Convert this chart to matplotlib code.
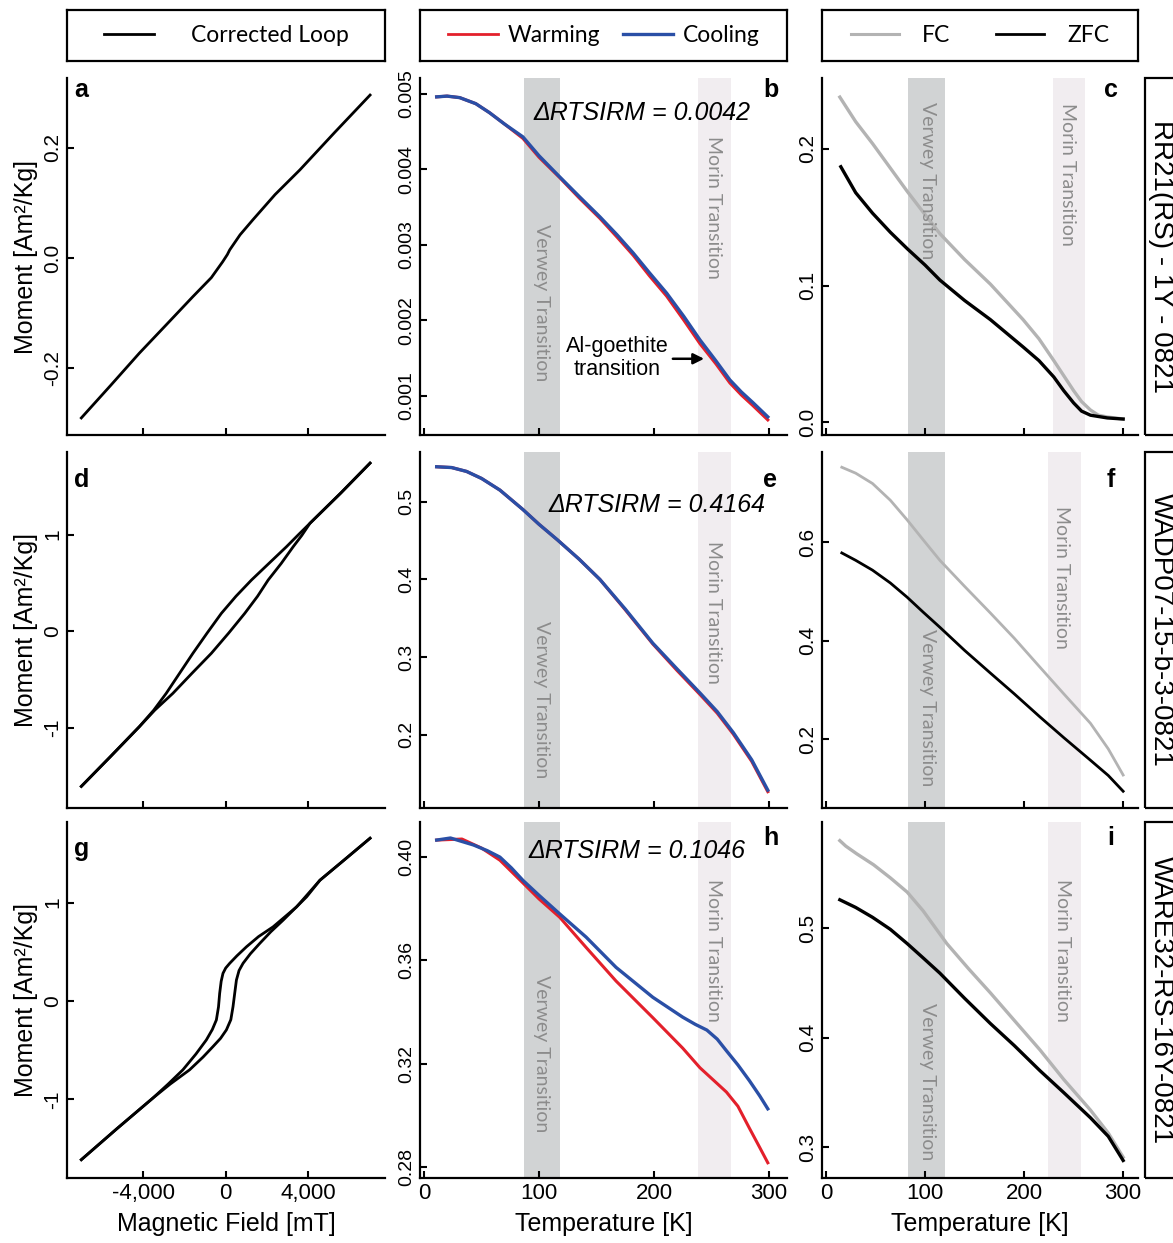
import numpy as np
import matplotlib
matplotlib.use("Agg")
import matplotlib.pyplot as plt
from matplotlib.patches import Rectangle
from matplotlib.lines import Line2D

plt.rcParams['font.family'] = ['Liberation Sans', 'DejaVu Sans']

# --- hysteresis loops (field in mT, moment in Am2/Kg) ---
field_a = [-7024, -5600, -4195, -2900, -1610, -700, -146, 80, 195, 700, 1317, 2400, 3610, 5300, 7024]
moment_a = [-0.291, -0.232, -0.173, -0.122, -0.071, -0.036, -0.007, 0.006, 0.0145, 0.042, 0.069, 0.115, 0.160, 0.228, 0.296]

field_d_up = [-7024, -5600, -4195, -3500, -2894, -2250, -1595, -900, -211, 500, 1252, 2100, 2959, 3500, 4098, 5600, 7024]
moment_d_up = [-1.61, -1.30, -0.99, -0.82, -0.646, -0.44, -0.231, -0.02, 0.183, 0.36, 0.528, 0.70, 0.874, 0.99, 1.116, 1.43, 1.74]
field_d_dn = [-7024, -5600, -4195, -3450, -2570, -1650, -698, 150, 927, 1550, 2065, 2700, 3285, 3700, 4098, 5600, 7024]
moment_d_dn = [-1.61, -1.30, -0.99, -0.82, -0.646, -0.44, -0.231, -0.02, 0.183, 0.36, 0.528, 0.70, 0.874, 0.99, 1.116, 1.43, 1.74]

field_g_up = [-7024, -5300, -3546, -2800, -2083, -1450, -941, -650, -454, -350, -293, -220, -132, 0, 195, 550, 1010, 1600, 2307, 3449, 4585, 5800, 7024]
moment_g_up = [-1.614, -1.30, -0.988, -0.845, -0.700, -0.54, -0.396, -0.29, -0.193, -0.06, 0.078, 0.20, 0.281, 0.335, 0.383, 0.46, 0.551, 0.655, 0.754, 0.957, 1.228, 1.44, 1.655]
field_g_dn = [-7024, -5300, -3546, -2700, -1756, -1100, -620, -250, 34, 250, 356, 440, 522, 650, 844, 1200, 1659, 2200, 2795, 3937, 4585, 5800, 7024]
moment_g_dn = [-1.614, -1.30, -0.988, -0.845, -0.700, -0.57, -0.464, -0.38, -0.294, -0.19, -0.058, 0.08, 0.213, 0.31, 0.383, 0.48, 0.586, 0.705, 0.822, 1.059, 1.228, 1.44, 1.655]

# --- RTSIRM warming / cooling (T in K) ---
temp_b = [11, 20, 31, 45, 57, 70, 86, 100, 118, 135, 153, 168, 182, 196, 211, 226, 240, 254, 266, 276, 286, 299]
cool_b = [0.00496, 0.00497, 0.00495, 0.00487, 0.00475, 0.00460, 0.00443, 0.00418, 0.00390, 0.00364, 0.00337, 0.00313, 0.00289, 0.00263, 0.00236, 0.00205, 0.00174, 0.00146, 0.00121, 0.00105, 0.00091, 0.00072]
warm_b = [0.00496, 0.00497, 0.00495, 0.00487, 0.00475, 0.00460, 0.00441, 0.00416, 0.00389, 0.00362, 0.00335, 0.00310, 0.00286, 0.00259, 0.00232, 0.00200, 0.00169, 0.00142, 0.00117, 0.00101, 0.00087, 0.00068]

temp_e = [11, 24, 37, 50, 66, 86, 100, 116, 135, 153, 175, 199, 220, 240, 255, 269, 285, 299]
cool_e = [0.545, 0.544, 0.539, 0.530, 0.515, 0.490, 0.471, 0.451, 0.426, 0.400, 0.362, 0.318, 0.285, 0.254, 0.230, 0.203, 0.168, 0.129]
warm_e = [0.545, 0.544, 0.539, 0.530, 0.515, 0.490, 0.471, 0.451, 0.426, 0.400, 0.361, 0.317, 0.283, 0.252, 0.228, 0.201, 0.166, 0.127]

temp_h_cool = [11, 23, 43, 55, 66, 76, 86, 100, 118, 141, 167, 199, 225, 236, 246, 255, 263, 273, 283, 292, 299]
cool_h = [0.4066, 0.4074, 0.4047, 0.4025, 0.400, 0.3958, 0.391, 0.3852, 0.378, 0.369, 0.3573, 0.3457, 0.338, 0.3352, 0.333, 0.3295, 0.325, 0.3195, 0.3134, 0.3075, 0.3025]
temp_h_warm = [11, 33, 50, 66, 86, 100, 118, 141, 167, 199, 225, 240, 252, 263, 273, 283, 292, 299]
warm_h = [0.4066, 0.4070, 0.4035, 0.3988, 0.390, 0.3838, 0.3767, 0.365, 0.352, 0.3378, 0.326, 0.3184, 0.3135, 0.309, 0.3035, 0.295, 0.2875, 0.2816]

# --- FC / ZFC ---
temp_c = [14, 30, 47, 65, 82, 100, 115, 140, 166, 199, 215, 230, 240, 250, 258, 267, 275, 284, 300]
fc_c = [0.238, 0.220, 0.204, 0.186, 0.169, 0.152, 0.138, 0.119, 0.101, 0.075, 0.061, 0.045, 0.034, 0.023, 0.015, 0.0088, 0.005, 0.0037, 0.0022]
temp_c_z = [15, 30, 47, 65, 82, 100, 115, 140, 166, 199, 215, 230, 240, 250, 258, 267, 284, 300]
zfc_c = [0.187, 0.168, 0.153, 0.139, 0.127, 0.115, 0.104, 0.089, 0.075, 0.055, 0.045, 0.033, 0.023, 0.014, 0.008, 0.005, 0.003, 0.0022]

temp_f = [16, 30, 47, 65, 82, 98, 115, 140, 166, 190, 216, 240, 267, 285, 300]
fc_f = [0.752, 0.740, 0.719, 0.685, 0.645, 0.605, 0.563, 0.510, 0.456, 0.405, 0.346, 0.292, 0.232, 0.180, 0.127]
zfc_f = [0.578, 0.563, 0.543, 0.517, 0.488, 0.458, 0.427, 0.380, 0.334, 0.292, 0.245, 0.203, 0.157, 0.126, 0.094]

temp_i_fc = [14, 20, 31, 48, 65, 82, 98, 110, 122, 144, 166, 190, 216, 240, 267, 285, 300]
fc_i = [0.580, 0.575, 0.568, 0.558, 0.546, 0.533, 0.516, 0.501, 0.486, 0.463, 0.441, 0.416, 0.389, 0.362, 0.334, 0.313, 0.291]
temp_i_zfc = [14, 30, 47, 65, 82, 98, 115, 140, 166, 190, 216, 240, 267, 285, 300]
zfc_i = [0.526, 0.519, 0.510, 0.499, 0.486, 0.473, 0.459, 0.436, 0.413, 0.393, 0.370, 0.350, 0.327, 0.310, 0.288]

delta_rtsirm = ["0.0042", "0.4164", "0.1046"]
sample_names = ["RR21(RS) - 1Y - 0821", "WADP07-15-b-3-0821", "WARE32-RS-16Y-0821"]
verwey_band = (87, 118)
morin_band_mid = (238, 267)
morin_band_right = [(229, 262), (224, 257), (224, 257)]
verwey_band_right = (83, 120)

red = '#e3202b'
blue = '#2a4fa6'
fc_gray = '#b3b3b3'
band_dark = '#d1d3d4'
band_light = '#f1edf0'
txt_gray = '#8c8c8c'

fig = plt.figure(figsize=(11.73, 12.43), dpi=100)

W, H = 1173.0, 1243.0
cols = [(67, 385), (420, 787), (822, 1138)]
rows = [(78, 435), (452, 808), (822, 1178)]

axs = []
for r in range(3):
    row_axes = []
    for c in range(3):
        x0, x1 = cols[c]
        y0, y1 = rows[r]
        ax = fig.add_axes([x0 / W, 1 - y1 / H, (x1 - x0) / W, (y1 - y0) / H])
        for s in ['top', 'right']:
            ax.spines[s].set_visible(False)
        for s in ['left', 'bottom']:
            ax.spines[s].set_linewidth(1.6)
        ax.tick_params(direction='in', length=5, width=1.5)
        row_axes.append(ax)
    axs.append(row_axes)

# column 1: loops
ax = axs[0][0]
ax.plot(field_a, moment_a, color='k', lw=2)
ax.set_ylim(-0.322, 0.327)
ax.set_yticks([-0.2, 0.0, 0.2])
ax.set_yticklabels(['-0.2', '0.0', '0.2'])

ax = axs[1][0]
ax.plot(field_d_up, moment_d_up, color='k', lw=2)
ax.plot(field_d_dn, moment_d_dn, color='k', lw=2)
ax.set_ylim(-1.834, 1.855)

ax = axs[2][0]
ax.plot(field_g_up, moment_g_up, color='k', lw=2)
ax.plot(field_g_dn, moment_g_dn, color='k', lw=2)
ax.set_ylim(-1.80, 1.82)

for r in range(3):
    ax = axs[r][0]
    ax.set_xlim(-7720, 7750)
    ax.set_xticks([-4000, 0, 4000])
    if r > 0:
        ax.set_yticks([-1, 0, 1])
        ax.set_yticklabels(['-1', '0', '1'])
    ax.set_ylabel('Moment [Am²/Kg]', fontsize=18, labelpad=4)
    plt.setp(ax.get_yticklabels(), rotation=90, va='center', fontsize=15)
    if r == 2:
        ax.set_xticklabels(['-4,000', '0', '4,000'], fontsize=16)
        ax.set_xlabel('Magnetic Field [mT]', fontsize=18, labelpad=6)
    else:
        ax.set_xticklabels([])

# column 2: RTSIRM
mid_data = [(temp_b, warm_b, temp_b, cool_b), (temp_e, warm_e, temp_e, cool_e),
            (temp_h_warm, warm_h, temp_h_cool, cool_h)]
mid_ylims = [(0.00048, 0.00521), (0.106, 0.564), (0.2757, 0.4136)]
mid_ticks = [[0.001, 0.002, 0.003, 0.004, 0.005], [0.2, 0.3, 0.4, 0.5], [0.28, 0.32, 0.36, 0.40]]
mid_ticklabels = [['0.001', '0.002', '0.003', '0.004', '0.005'], ['0.2', '0.3', '0.4', '0.5'],
                  ['0.28', '0.32', '0.36', '0.40']]
delta_pos = [(190, 0.00474), (203, 0.496), (185, 0.4025)]
verwey_lbl = [0.00224, 0.245, 0.3239]
morin_lbl = [0.0035, 0.357, 0.3639]
letters_mid = ['b', 'e', 'h']
letter_mid_y = [0.965, 0.92, 0.955]

for r in range(3):
    ax = axs[r][1]
    tw, mw, tc, mc = mid_data[r]
    ax.axvspan(*verwey_band, color=band_dark, lw=0, zorder=0)
    ax.axvspan(*morin_band_mid, color=band_light, lw=0, zorder=0)
    ax.plot(tw, mw, color=red, lw=2.2)
    ax.plot(tc, mc, color=blue, lw=2.4)
    ax.set_xlim(-3.5, 315.7)
    ax.set_ylim(*mid_ylims[r])
    ax.set_yticks(mid_ticks[r])
    ax.set_yticklabels(mid_ticklabels[r], rotation=90, va='center', fontsize=14)
    ax.set_xticks([0, 100, 200, 300])
    ax.text(102, verwey_lbl[r], 'Verwey Transition', rotation=-90, ha='center', va='center',
            color=txt_gray, fontsize=14, family='Lato')
    ax.text(252, morin_lbl[r], 'Morin Transition', rotation=-90, ha='center', va='center',
            color=txt_gray, fontsize=14, family='Lato')
    ax.text(delta_pos[r][0], delta_pos[r][1], '\u0394RTSIRM = ' + delta_rtsirm[r],
            ha='center', va='center', fontsize=18, style='italic')
    ax.text(0.955, letter_mid_y[r], letters_mid[r], transform=ax.transAxes, ha='center',
            va='center', fontsize=18, fontweight='bold')
    if r == 2:
        ax.set_xticklabels(['0', '100', '200', '300'], fontsize=16)
        ax.set_xlabel('Temperature [K]', fontsize=18, labelpad=6)
    else:
        ax.set_xticklabels([])

ax = axs[0][1]
ax.text(168, 0.00150, 'Al-goethite\ntransition', ha='center', va='center', fontsize=15.5,
        linespacing=1.15)
ax.annotate('', xy=(246, 0.00149), xytext=(214, 0.00149),
            arrowprops=dict(arrowstyle='-|>', color='k', lw=1.8, mutation_scale=16))

# column 3: FC / ZFC
right_data = [(temp_c, fc_c, temp_c_z, zfc_c), (temp_f, fc_f, temp_f, zfc_f),
              (temp_i_fc, fc_i, temp_i_zfc, zfc_i)]
right_ylims = [(-0.0095, 0.252), (0.06, 0.783), (0.272, 0.597)]
right_ticks = [[0.0, 0.1, 0.2], [0.2, 0.4, 0.6], [0.3, 0.4, 0.5]]
right_ticklabels = [['0.0', '0.1', '0.2'], ['0.2', '0.4', '0.6'], ['0.3', '0.4', '0.5']]
verwey_lbl_r = [0.1766, 0.263, 0.360]
morin_lbl_r = [0.181, 0.529, 0.480]
morin_x_r = [244, 238, 239]
letters_right = ['c', 'f', 'i']
letter_right_y = [0.965, 0.92, 0.955]

for r in range(3):
    ax = axs[r][2]
    tf, mf, tz, mz = right_data[r]
    ax.axvspan(*verwey_band_right, color=band_dark, lw=0, zorder=0)
    ax.axvspan(*morin_band_right[r], color=band_light, lw=0, zorder=0)
    ax.plot(tf, mf, color=fc_gray, lw=2.4 if r != 1 else 2.0)
    ax.plot(tz, mz, color='k', lw=2.4 if r != 1 else 2.0)
    ax.set_xlim(-4, 315)
    ax.set_ylim(*right_ylims[r])
    ax.set_yticks(right_ticks[r])
    ax.set_yticklabels(right_ticklabels[r], rotation=90, va='center', fontsize=15)
    ax.set_xticks([0, 100, 200, 300])
    ax.text(102, verwey_lbl_r[r], 'Verwey Transition', rotation=-90, ha='center', va='center',
            color=txt_gray, fontsize=14, family='Lato')
    ax.text(morin_x_r[r], morin_lbl_r[r], 'Morin Transition', rotation=-90, ha='center',
            va='center', color=txt_gray, fontsize=14, family='Lato')
    ax.text(0.915, letter_right_y[r], letters_right[r], transform=ax.transAxes, ha='center',
            va='center', fontsize=18, fontweight='bold')
    if r == 2:
        ax.set_xticklabels(['0', '100', '200', '300'], fontsize=16)
        ax.set_xlabel('Temperature [K]', fontsize=18, labelpad=6)
    else:
        ax.set_xticklabels([])

# letters col 1
for r, (lt, yy) in enumerate(zip(['a', 'd', 'g'], [0.965, 0.92, 0.925])):
    axs[r][0].text(0.045, yy, lt, transform=axs[r][0].transAxes, ha='center', va='center',
                   fontsize=18, fontweight='bold')

# legend boxes on top
def legend_box(x0, x1, handles, labels, **kw):
    lax = fig.add_axes([x0 / W, 1 - 61 / H, (x1 - x0) / W, 51 / H])
    lax.set_xticks([])
    lax.set_yticks([])
    for s in lax.spines.values():
        s.set_linewidth(1.6)
    lax.legend(handles, labels, loc='center', frameon=False, ncol=len(labels),
               prop={'family': 'Lato', 'size': 16.5}, **kw)

legend_box(67, 385, [Line2D([], [], color='k', lw=2)], ['Corrected Loop'],
           handlelength=2.2, handletextpad=1.6)
legend_box(420, 787, [Line2D([], [], color=red, lw=2), Line2D([], [], color=blue, lw=2.4)],
           ['Warming', 'Cooling'], handlelength=2.2, handletextpad=0.4, columnspacing=1.0)
legend_box(822, 1138, [Line2D([], [], color=fc_gray, lw=2.2), Line2D([], [], color='k', lw=2)],
           ['FC', 'ZFC'], handlelength=2.1, handletextpad=1.0, columnspacing=2.0)

# sample name boxes on the right
for r in range(3):
    y0, y1 = rows[r]
    fig.patches.append(Rectangle((1145 / W, 1 - y1 / H), 60 / W, (y1 - y0) / H,
                                 transform=fig.transFigure, fill=False, lw=1.6,
                                 edgecolor='k', clip_on=False))
    fig.text(1161 / W, 1 - (y0 + y1) / 2 / H, sample_names[r], rotation=-90, ha='center',
             va='center', fontsize=20)

fig.savefig('out.png', dpi=100)
